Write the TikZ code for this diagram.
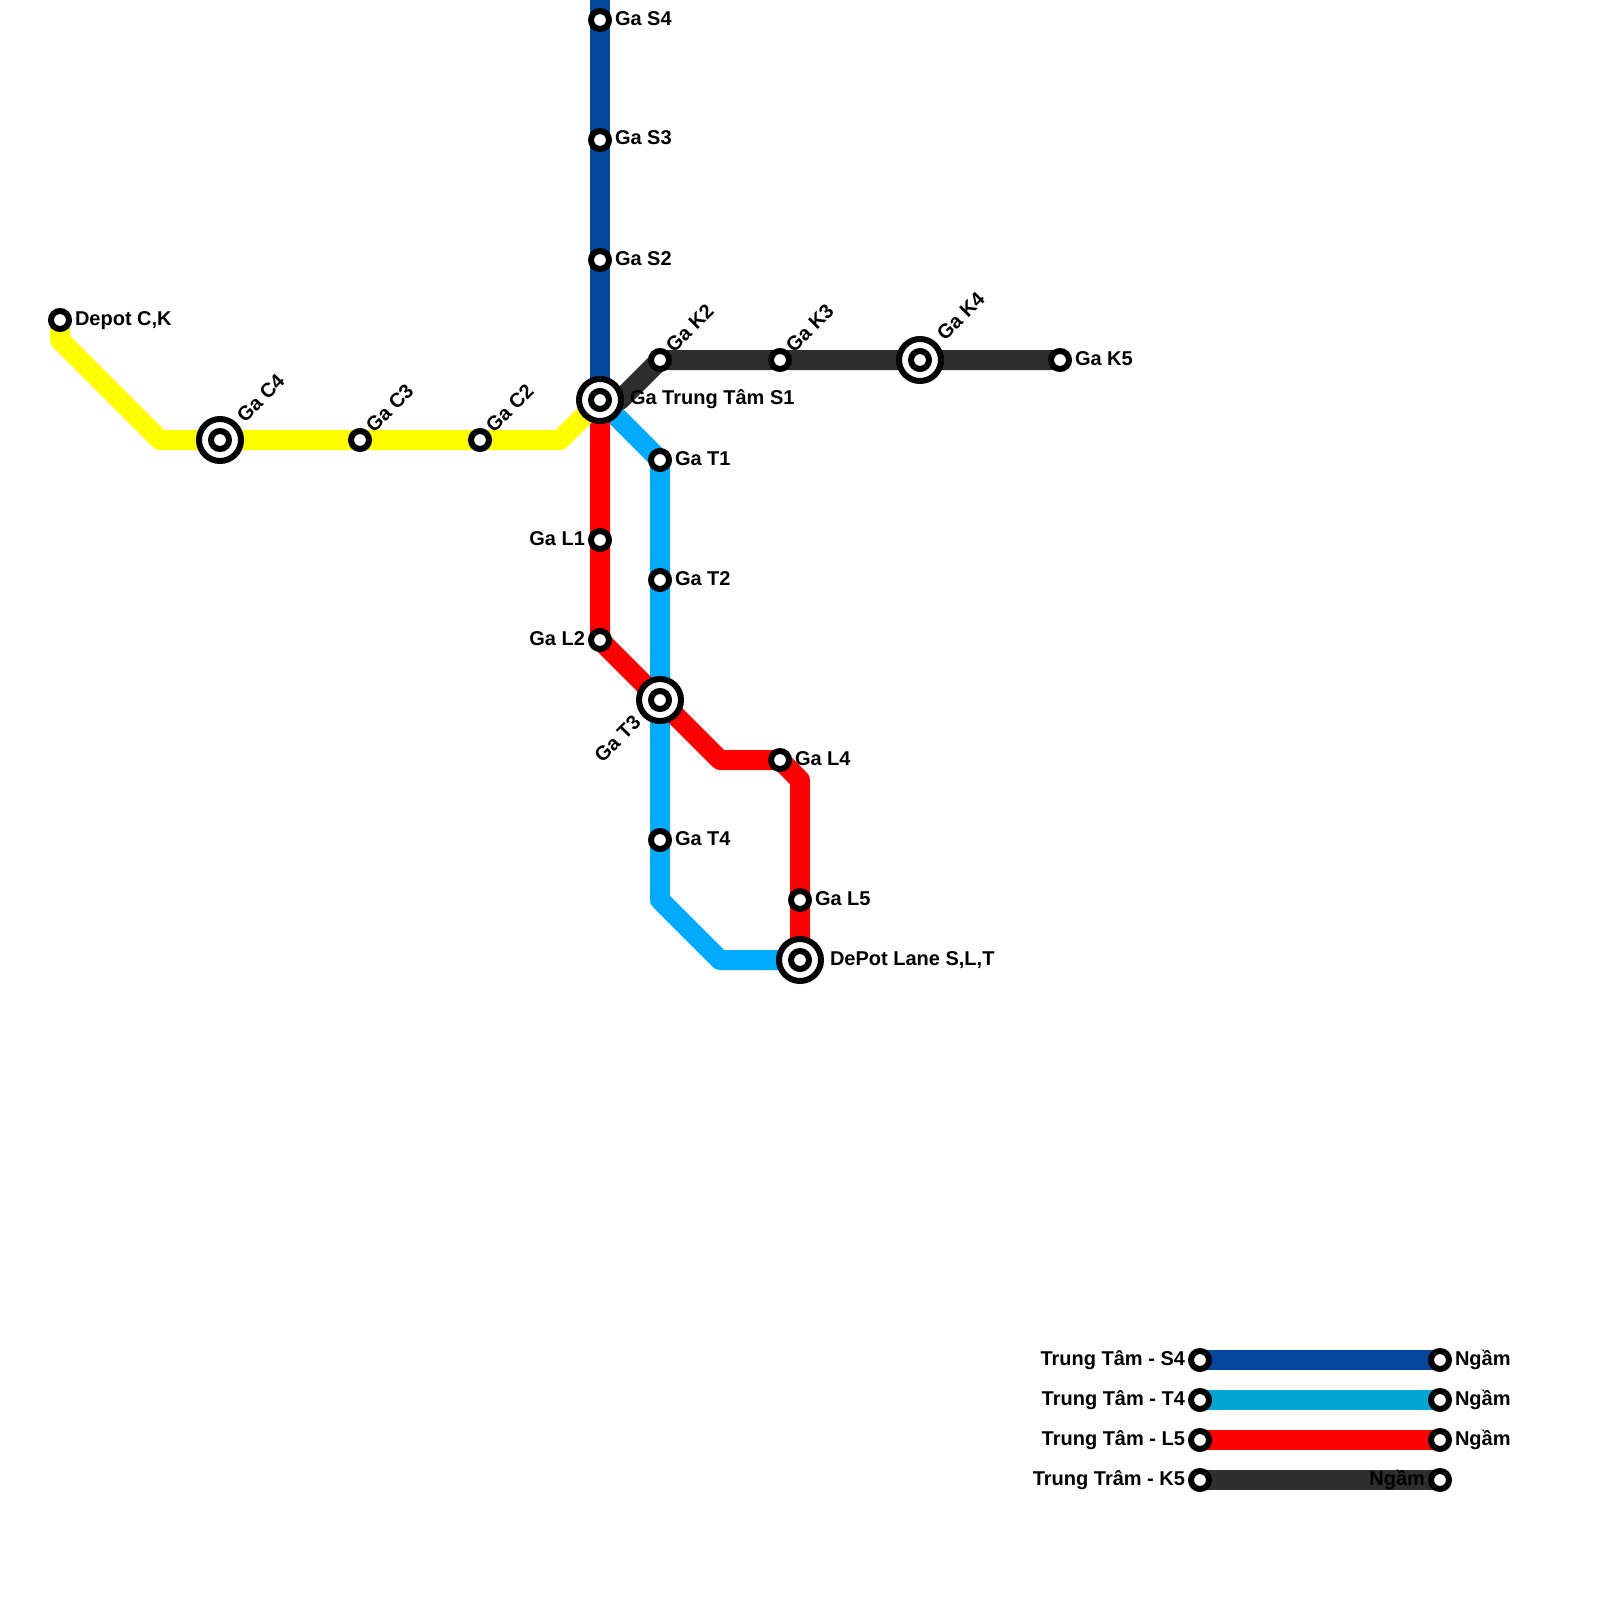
\documentclass[tikz,border=0pt]{standalone}
\usepackage{fontspec}
\setmainfont{Liberation Sans}
\usetikzlibrary{backgrounds}
\definecolor{lineS}{HTML}{03469B}
\definecolor{lineT}{HTML}{00AAFF}
\definecolor{legT}{HTML}{03A6D0}
\definecolor{lineL}{HTML}{FF0000}
\definecolor{lineC}{HTML}{FFFF00}
\definecolor{lineK}{HTML}{2E2E2E}
\tikzset{
  x=0.5pt,y=-0.5pt,
  stn/.style={circle,draw=black,fill=white,line width=3pt,minimum size=9pt,inner sep=0pt,outer sep=0pt},
  hub/.style={circle,draw=black,fill=white,line width=3pt,minimum size=21pt,inner sep=0pt,outer sep=0pt},
  hubin/.style={circle,draw=black,fill=white,line width=3pt,minimum size=9pt,inner sep=0pt,outer sep=0pt},
  track/.style={line width=10pt,line join=round,line cap=butt},
  lbl/.style={font=\bfseries\fontsize{10}{10}\selectfont,text=black,inner sep=0pt,outer sep=0pt},
  lr/.style={lbl,anchor=base west},
  ll/.style={lbl,anchor=base east},
  lu/.style={lbl,anchor=base west,rotate=45},
  ld/.style={lbl,anchor=base east,rotate=45},
}
\newcommand{\hubstn}[2]{\node[hub] (#1) at (#2) {}; \node[hubin] (#1in) at (#2) {};}
\begin{document}
\begin{tikzpicture}
\useasboundingbox (0,0) rectangle (1600,1600);
% stations
\node[stn] (S4) at (600,20) {};
\node[stn] (S3) at (600,140) {};
\node[stn] (S2) at (600,260) {};
\hubstn{S1}{600,400}
\node[stn] (K2) at (660,360) {};
\node[stn] (K3) at (780,360) {};
\hubstn{K4}{920,360}
\node[stn] (K5) at (1060,360) {};
\node[stn] (DC) at (60,320) {};
\hubstn{C4}{220,440}
\node[stn] (C3) at (360,440) {};
\node[stn] (C2) at (480,440) {};
\node[stn] (T1) at (660,460) {};
\node[stn] (T2) at (660,580) {};
\hubstn{T3}{660,700}
\node[stn] (T4) at (660,840) {};
\node[stn] (L1) at (600,540) {};
\node[stn] (L2) at (600,640) {};
\node[stn] (L4) at (780,760) {};
\node[stn] (L5) at (800,900) {};
\hubstn{DL}{800,960}
% bends
\coordinate (top) at (600,0);
\coordinate (kb1) at (620,400);
\coordinate (cb1) at (60,340);
\coordinate (cb2) at (160,440);
\coordinate (cb3) at (560,440);
\coordinate (tb1) at (660,900);
\coordinate (tb2) at (720,960);
\coordinate (lb1) at (720,760);
\coordinate (lb2) at (800,780);
% legend
\node[stn] (a1) at (1200,1360) {};
\node[stn] (a2) at (1440,1360) {};
\node[stn] (b1) at (1200,1400) {};
\node[stn] (b2) at (1440,1400) {};
\node[stn] (c1) at (1200,1440) {};
\node[stn] (c2) at (1440,1440) {};
\node[stn] (d1) at (1200,1480) {};
\node[stn] (d2) at (1440,1480) {};
\begin{scope}[on background layer]
\fill[white] (0,0) rectangle (1600,1600);
\draw[track,lineT] (S1.center) -- (T1.center) -- (T2.center) -- (T3.center) -- (T4.center) -- (tb1) -- (tb2) -- (DL.center);
\draw[track,lineL] (S1.center) -- (L1.center) -- (L2.center) -- (T3.center) -- (lb1) -- (L4.center) -- (lb2) -- (L5.center) -- (DL.center);
\draw[track,lineS] (top) -- (S4.center) -- (S3.center) -- (S2.center) -- (S1.center);
\draw[track,lineC] (DC.center) -- (cb1) -- (cb2) -- (C4.center) -- (C3.center) -- (C2.center) -- (cb3) -- (S1.center);
\draw[track,lineK] (S1.center) -- (kb1) -- (K2.center) -- (K3.center) -- (K4.center) -- (K5.center);
\draw[track,lineS] (a1.center) -- (a2.center);
\draw[track,legT] (b1.center) -- (b2.center);
\draw[track,lineL] (c1.center) -- (c2.center);
\draw[track,lineK] (d1.center) -- (d2.center);
\end{scope}
% labels
\node[lr] (tS4) at (615,25.5) {Ga S4};
\node[lr] (tS3) at (615,145) {Ga S3};
\node[lr] (tS2) at (615,265) {Ga S2};
\node[lr] (tS1) at (630,404.5) {Ga Trung Tâm S1};
\node[lr] (tK5) at (1075,365) {Ga K5};
\node[lr] (tDC) at (75,325) {Depot C,K};
\node[lr] (tT1) at (675,465) {Ga T1};
\node[lr] (tT2) at (675,585) {Ga T2};
\node[lr] (tT4) at (675,845) {Ga T4};
\node[lr] (tL4) at (795,765) {Ga L4};
\node[lr] (tL5) at (815,905) {Ga L5};
\node[lr] (tDL) at (830,965) {DePot Lane S,L,T};
\node[ll] (tL1) at (585,545) {Ga L1};
\node[ll] (tL2) at (585,645) {Ga L2};
\node[lu] (tK2) at (674,353) {Ga K2};
\node[lu] (tK3) at (794,353) {Ga K3};
\node[lu] (tK4) at (945,341) {Ga K4};
\node[lu] (tC4) at (245,423) {Ga C4};
\node[lu] (tC3) at (374,433) {Ga C3};
\node[lu] (tC2) at (494,433) {Ga C2};
\node[ld] (tT3) at (642,724) {Ga T3};
\node[ll] (ta) at (1185,1365) {Trung Tâm - S4};
\node[ll] (tb) at (1185,1405) {Trung Tâm - T4};
\node[ll] (tc) at (1185,1445) {Trung Tâm - L5};
\node[ll] (td) at (1185,1485) {Trung Trâm - K5};
\node[lr] (ua) at (1455,1365) {Ngầm};
\node[lr] (ub) at (1455,1405) {Ngầm};
\node[lr] (uc) at (1455,1445) {Ngầm};
\node[ll] (ud) at (1425,1485) {Ngầm};
\end{tikzpicture}
\end{document}
